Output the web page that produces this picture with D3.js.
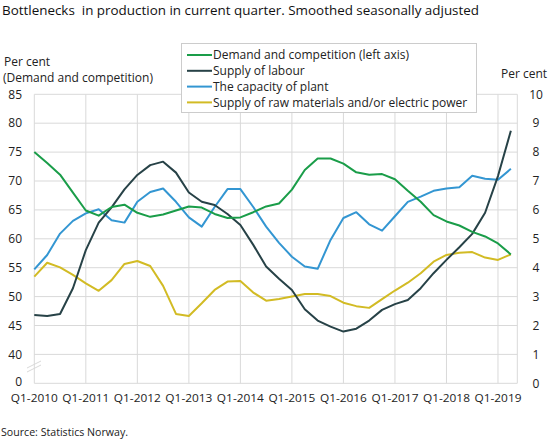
<!DOCTYPE html>
<html><head><meta charset="utf-8">
<script src="https://cdn.jsdelivr.net/npm/d3@7"></script>
<style>
body{margin:0;background:#fff;}
svg{display:block;font-family:"Open Sans",sans-serif;}
</style></head>
<body><svg id="c" width="549" height="440"></svg>
<script>
const quarters = [];
for (let y = 2010; y <= 2019; y++) for (let q = 1; q <= 4; q++) quarters.push("Q" + q + "-" + y);
const periods = quarters.slice(0, 38);
const demand = [75.0,73.1,71.1,68.0,64.9,64.0,65.5,65.9,64.5,63.8,64.2,64.9,65.6,65.4,64.3,63.6,63.7,64.6,65.6,66.1,68.5,71.9,73.9,73.9,73.0,71.5,71.1,71.2,70.3,68.3,66.4,64.1,63.0,62.3,61.2,60.4,59.2,57.3];
const labour = [2.36,2.33,2.40,3.29,4.61,5.56,6.09,6.71,7.21,7.55,7.67,7.29,6.60,6.28,6.17,5.86,5.48,4.79,4.04,3.62,3.23,2.56,2.17,1.96,1.79,1.89,2.17,2.54,2.74,2.88,3.29,3.81,4.27,4.71,5.17,5.90,7.17,8.74];
const capacity = [54.7,57.2,60.9,63.1,64.4,65.1,63.2,62.8,66.4,68.1,68.7,66.4,63.7,62.1,65.5,68.6,68.6,65.5,62.1,59.3,56.9,55.2,54.8,59.8,63.6,64.6,62.5,61.4,63.9,66.4,67.3,68.3,68.7,68.9,70.9,70.4,70.2,72.1];
const rawMaterials = [3.69,4.17,4.01,3.75,3.46,3.20,3.57,4.13,4.23,4.06,3.37,2.40,2.33,2.77,3.23,3.52,3.54,3.14,2.86,2.92,3.00,3.09,3.09,3.02,2.79,2.67,2.61,2.91,3.21,3.48,3.81,4.21,4.44,4.52,4.54,4.35,4.27,4.46];
const leftTicks = [35,40,45,50,55,60,65,70,75,80,85];
const leftTickLabels = ["0","40","45","50","55","60","65","70","75","80","85"];
const rightTicks = [0,1,2,3,4,5,6,7,8,9,10];
const xTickLabels = ["Q1-2010","Q1-2011","Q1-2012","Q1-2013","Q1-2014","Q1-2015","Q1-2016","Q1-2017","Q1-2018","Q1-2019"];
const seriesNames = ["Demand and competition (left axis)","Supply of labour","The capacity of plant","Supply of raw materials and/or electric power"];
const colors = ["#1a9d49","#274247","#3396d2","#d2bb24"];

const svg = d3.select("#c");
const L = 34.3, R = 517.3, T = 94.3, B = 383.3;
const x = d3.scaleLinear().domain([0, 37.5]).range([L, R]);
const yL = d3.scaleLinear().domain([35, 85]).range([B, T]);
const yR = d3.scaleLinear().domain([0, 10]).range([B, T]);
const grid = "#d9d9d9";
const txt = "#222";

// horizontal grid
svg.append("g").selectAll("line").data(leftTicks).join("line")
  .attr("x1", L).attr("x2", R).attr("y1", d => yL(d)).attr("y2", d => yL(d))
  .attr("stroke", grid).attr("stroke-width", 1);
// vertical grid
const xTickIdx = xTickLabels.map(l => periods.indexOf(l));
svg.append("g").selectAll("line").data(xTickIdx.concat([37.5])).join("line")
  .attr("x1", d => x(d)).attr("x2", d => x(d)).attr("y1", T).attr("y2", B)
  .attr("stroke", grid).attr("stroke-width", 1);

// axis break marks
const br = svg.append("g").attr("stroke", "#d9d9d9").attr("stroke-width", 1);
br.append("line").attr("x1", 27).attr("y1", 368).attr("x2", 41).attr("y2", 361);
br.append("line").attr("x1", 27).attr("y1", 372).attr("x2", 41).attr("y2", 365);

// left tick labels
svg.append("g").selectAll("text").data(leftTicks).join("text")
  .attr("x", 22).attr("y", d => yL(d) - (d === 35 ? 1.5 : 0)).attr("dy", "0.35em").attr("text-anchor", "end")
  .attr("font-size", 12).attr("fill", txt).text((d, i) => leftTickLabels[i]);
// right tick labels
svg.append("g").selectAll("text").data(rightTicks).join("text")
  .attr("x", 536).attr("y", d => yR(d)).attr("dy", "0.35em").attr("text-anchor", "middle")
  .attr("font-size", 12).attr("fill", txt).text(d => d);
// x tick labels
svg.append("g").selectAll("text").data(xTickIdx).join("text")
  .attr("x", d => x(d)).attr("y", 401.5).attr("text-anchor", "middle")
  .attr("font-size", 11.5).attr("fill", txt).attr("textLength", 47).attr("lengthAdjust","spacingAndGlyphs")
  .text((d, i) => xTickLabels[i]);

// axis titles
svg.append("text").attr("x", 4).attr("y", 66).attr("font-size", 12).attr("fill", txt).text("Per cent");
svg.append("text").attr("x", 3).attr("y", 81.5).attr("font-size", 12).attr("fill", txt).text("(Demand and competition)");
svg.append("text").attr("x", 501).attr("y", 78).attr("font-size", 12).attr("fill", txt).text("Per cent");

// title and source
svg.append("text").attr("x", 2).attr("y", 15).attr("font-size", 13).attr("fill", "#111")
  .attr("textLength", 477).attr("lengthAdjust", "spacingAndGlyphs")
  .text("Bottlenecks\u00a0 in production in current quarter. Smoothed seasonally adjusted");
svg.append("text").attr("x", 1).attr("y", 436).attr("font-size", 11).attr("fill", txt)
  .attr("textLength", 127).attr("lengthAdjust", "spacingAndGlyphs").text("Source: Statistics Norway.");

// lines
const series = [
  {v: demand, y: yL}, {v: labour, y: yR}, {v: capacity, y: yL}, {v: rawMaterials, y: yR}
];
const order = [3, 2, 1, 0];
order.forEach(k => {
  const s = series[k];
  svg.append("path").datum(s.v)
    .attr("fill", "none").attr("stroke", colors[k]).attr("stroke-width", 2)
    .attr("stroke-linejoin", "round")
    .attr("d", d3.line().x((d, i) => x(i)).y(d => s.y(d)));
});

// legend
const lg = svg.append("g");
lg.append("rect").attr("x", 181.5).attr("y", 43.5).attr("width", 295).attr("height", 69)
  .attr("fill", "#fff").attr("stroke", "#ccc");
seriesNames.forEach((n, i) => {
  const yy = 55 + i * 15.8;
  lg.append("line").attr("x1", 187).attr("x2", 212).attr("y1", yy).attr("y2", yy)
    .attr("stroke", colors[i]).attr("stroke-width", 2);
  lg.append("text").attr("x", 213).attr("y", yy).attr("dy", "0.35em")
    .attr("font-size", 12).attr("fill", txt).text(n);
});
</script></body></html>
